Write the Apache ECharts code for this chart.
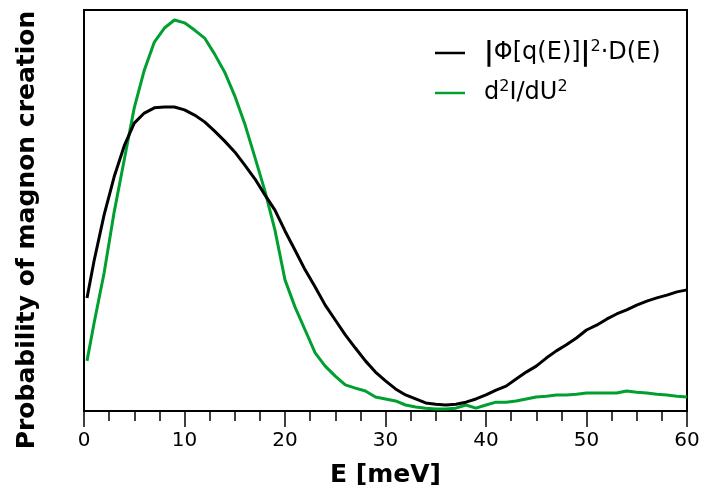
<!DOCTYPE html>
<html><head><meta charset="utf-8">
<script src="https://cdn.jsdelivr.net/npm/echarts@6/dist/echarts.min.js"></script>
<style>html,body{margin:0;padding:0;background:#fff}#c{width:701px;height:488px}</style>
</head><body><div id="c"></div>
<script>
const energies = [0.3,1,2,3,4,5,6,7,8,9,10,11,12,13,14,15,16,17,18,19,20,21,22,23,24,25,26,27,28,29,30,31,32,33,34,35,36,37,38,39,40,41,42,43,44,45,46,47,48,49,50,51,52,53,54,55,56,57,58,59,60];
const phiD = [28.2,37.4,48.9,58.4,66.1,71.8,74.3,75.6,75.8,75.8,75.1,73.8,72.1,69.8,67.3,64.6,61.3,57.9,53.9,50.1,44.9,40.1,35.2,30.9,26.4,22.7,19.0,15.7,12.5,9.7,7.5,5.5,4.0,3.0,2.0,1.7,1.5,1.7,2.2,3.0,4.0,5.2,6.2,8.0,9.7,11.2,13.2,15.0,16.5,18.2,20.2,21.4,22.9,24.2,25.2,26.4,27.4,28.2,28.9,29.7,30.2];
const d2IdU2 = [12.5,21.9,34.4,49.6,62.6,75.6,85.0,92.0,95.5,97.5,96.8,95.0,93.0,89.0,84.5,78.6,71.6,63.3,54.9,45.1,32.7,25.9,20.2,14.5,11.2,8.7,6.5,5.7,5.0,3.5,3.0,2.5,1.5,1.0,0.7,0.5,0.5,0.7,1.5,0.7,1.5,2.2,2.2,2.5,3.0,3.5,3.7,4.0,4.0,4.2,4.5,4.5,4.5,4.5,5.0,4.7,4.5,4.2,4.0,3.7,3.5];
const seriesNames = ['|Φ[q(E)]|²·D(E)', 'd²I/dU²'];
const legendRich = ['{b||}Φ[q(E)]{b||}{s|2}·D(E)', 'd{s|2}I/dU{s|2}'];
const xTicks = [0,10,20,30,40,50,60];
const xTitle = 'E [meV]';
const yTitle = 'Probability of magnon creation';

const font = 'DejaVu Sans';
const chart = echarts.init(document.getElementById('c'), null, {renderer:'canvas'});
const pair = (ys) => energies.map((e,i)=>[e, ys[i]]);
const legendText = {fontFamily:font, fontSize:24, color:'#000', padding:[0,0,0,14],
  rich:{
    s:{fontFamily:font, fontSize:16, verticalAlign:'top', padding:[0,0,12,0], color:'#000'},
    b:{fontFamily:font, fontSize:27, fontWeight:'bold', color:'#000'}
  }};
const mkLegend = (i, top) => ({
  orient:'vertical', left:435, top:top, padding:0, itemWidth:30, itemHeight:2.5,
  icon:'rect', data:[seriesNames[i]],
  formatter:(n)=> legendRich[seriesNames.indexOf(n)],
  textStyle:legendText
});
chart.setOption({
  animation:false,
  grid:{left:84, right:14, top:10, bottom:77, show:true, borderColor:'#000', borderWidth:2, outerBoundsMode:'none', containLabel:false},
  legend:[mkLegend(0, 39), mkLegend(1, 79)],
  graphic:[
    {type:'text', x:27, y:230, rotation:Math.PI/2,
      style:{text:yTitle, fontFamily:font, fontSize:25, fontWeight:'bold', fill:'#000', align:'center', verticalAlign:'middle'}}
  ],
  xAxis:{
    type:'value', min:0, max:60, interval:10,
    name:xTitle, nameLocation:'middle', nameGap:52,
    nameTextStyle:{fontFamily:font, fontSize:25, fontWeight:'bold', color:'#000'},
    axisLine:{show:true, onZero:false, lineStyle:{color:'#000', width:2}},
    axisTick:{show:true, inside:false, length:16, lineStyle:{color:'#000', width:1.5}},
    minorTick:{show:true, splitNumber:4, length:10, lineStyle:{color:'#000', width:1.5}},
    axisLabel:{fontFamily:font, fontSize:20, color:'#000', margin:20,
      formatter:(v)=> xTicks.includes(v) ? String(v) : ''},
    splitLine:{show:false}
  },
  yAxis:{
    type:'value', min:0, max:100,
    axisLine:{show:true, lineStyle:{color:'#000', width:2}},
    axisTick:{show:false}, axisLabel:{show:false}, splitLine:{show:false}
  },
  series:[
    {name:seriesNames[0], type:'line', data:pair(phiD), showSymbol:false, symbol:'none',
      lineStyle:{color:'#000', width:3}, itemStyle:{color:'#000'}, z:3},
    {name:seriesNames[1], type:'line', data:pair(d2IdU2), showSymbol:false, symbol:'none',
      lineStyle:{color:'#00a030', width:3}, itemStyle:{color:'#00a030'}, z:2}
  ]
});
</script></body></html>
